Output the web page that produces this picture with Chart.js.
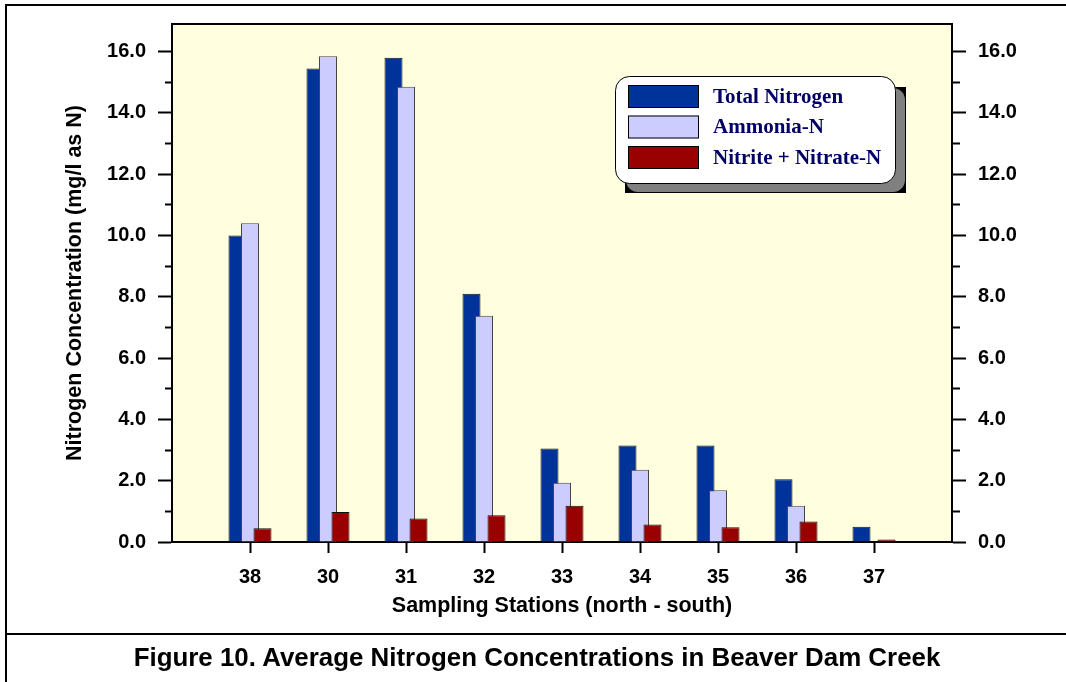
<!DOCTYPE html>
<html>
<head>
<meta charset="utf-8">
<script src="https://cdn.jsdelivr.net/npm/chart.js@4/dist/chart.umd.min.js"></script>
<style>
  body { margin: 0; background: #fff; }
  #wrap { position: relative; width: 1066px; height: 682px; overflow: hidden; }
  #mycanvas { position: absolute; left: 0; top: 0; }
  #frame { position: absolute; left: 5px; top: 4px; width: 1100px; height: 700px; border-left: 2px solid #000; border-top: 2px solid #000; }
  #sep { position: absolute; left: 5px; top: 633px; width: 1100px; border-top: 2px solid #000; }
  #caption { position: absolute; left: 4px; width: 1066px; top: 643px; text-align: center;
             font: bold 25.9px "Liberation Sans", Arial, sans-serif; color: #000; }
</style>
</head>
<body>
<div id="wrap">
  <div id="frame"></div>
  <canvas id="mycanvas" width="1066" height="682"></canvas>
  <div id="sep"></div>
  <div id="caption">Figure 10. Average Nitrogen Concentrations in Beaver Dam Creek</div>
</div>
<script>
// stations, north to south
var stations = ['38', '30', '31', '32', '33', '34', '35', '36', '37'];
var totalN   = [10.0, 15.45, 15.8, 8.1, 3.05, 3.15, 3.15, 2.05, 0.5];
var ammonia  = [10.4, 15.85, 14.85, 7.38, 1.93, 2.36, 1.69, 1.18, 0.0];
var nitrite  = [0.45, 0.98, 0.77, 0.87, 1.18, 0.57, 0.48, 0.67, 0.08];
var yTicks   = [0, 2, 4, 6, 8, 10, 12, 14, 16];

// one empty slot each side, like the original axis
var labels = [''].concat(stations, ['']);
function pad(arr) { return [null].concat(arr, [null]); }

var tickFont  = { family: 'Liberation Sans', weight: 'bold', size: 20 };
var titleFont = { family: 'Liberation Sans', weight: 'bold', size: 21.5 };

var plotFrame = {
  id: 'plotFrame',
  beforeDraw: function(chart) {
    var a = chart.chartArea, ctx = chart.ctx;
    ctx.save();
    ctx.fillStyle = '#FFFFE0';
    ctx.fillRect(a.left, a.top, a.right - a.left, a.bottom - a.top);
    ctx.restore();
  },
  // draw blue, then light, then red so the right bar sits on top
  beforeDatasetsDraw: function(chart) {
    var metas = chart.getSortedVisibleDatasetMetas().slice();
    metas.sort(function(a, b) { return a.index - b.index; });
    metas.forEach(function(m) { m.controller.draw(); });
    return false;
  },
  afterDraw: function(chart) {
    var a = chart.chartArea, ctx = chart.ctx;
    ctx.save();
    ctx.strokeStyle = '#000';
    ctx.lineWidth = 2;
    ctx.beginPath();
    ctx.moveTo(a.left - 1, a.top);
    ctx.lineTo(a.right + 1, a.top);
    ctx.stroke();

    // legend box with shadow
    var bx = 615, by = 76, bw = 280, bh = 107;
    ctx.fillStyle = '#000';
    ctx.fillRect(bx + 10, by + 11, bw + 1, bh - 1);
    ctx.fillStyle = '#808080';
    ctx.beginPath();
    ctx.roundRect(bx + 11, by + 12, bw - 1, bh - 3, 12);
    ctx.fill();
    ctx.fillStyle = '#fff';
    ctx.strokeStyle = '#000';
    ctx.lineWidth = 1;
    ctx.beginPath();
    ctx.roundRect(bx + 0.5, by + 0.5, bw, bh, 14);
    ctx.fill();
    ctx.stroke();

    ctx.font = 'bold 21px "Liberation Serif", "Times New Roman", serif';
    ctx.textBaseline = 'middle';
    ctx.textAlign = 'left';
    chart.data.datasets.forEach(function(ds, i) {
      var sy = by + 9 + i * 30.5;
      ctx.fillStyle = ds.backgroundColor;
      ctx.fillRect(bx + 13, sy, 71, 23);
      ctx.strokeStyle = '#000';
      ctx.strokeRect(bx + 13.5, sy + 0.5, 70, 22);
      ctx.fillStyle = '#000066';
      ctx.fillText(ds.label, bx + 98, sy + 12.5);
    });
    ctx.restore();
  }
};

function yAxis(pos) {
  return {
    position: pos,
    min: 0,
    max: 16.9,
    ticks: {
      stepSize: 1,
      maxTicksLimit: 30,
      includeBounds: false,
      padding: 12,
      color: '#000',
      font: tickFont,
      callback: function(v) { return yTicks.indexOf(v) >= 0 ? v.toFixed(1) : ''; }
    },
    grid: {
      drawOnChartArea: false,
      tickLength: 14,
      tickWidth: 2,
      tickColor: '#000',
      tickBorderDash: function(c) { return yTicks.indexOf(c.tick.value) >= 0 ? [] : [7, 7]; },
      tickBorderDashOffset: function(c) {
        return yTicks.indexOf(c.tick.value) >= 0 ? 0 : (pos === 'left' ? 7 : 0);
      }
    },
    border: { color: '#000', width: 2 }
  };
}

var yLeft = yAxis('left');
yLeft.title = { display: true, text: 'Nitrogen Concentration (mg/l as N)', color: '#000',
                font: titleFont, padding: { top: 0, bottom: 0 } };
yLeft.afterFit = function(s) { s.width = 110; };
var yRight = yAxis('right');
yRight.afterFit = function(s) { s.width = 114; };

var ctx = document.getElementById('mycanvas');
var chart = new Chart(ctx, {
  type: 'bar',
  data: {
    labels: labels,
    datasets: [
      { label: 'Total Nitrogen', data: pad(totalN), backgroundColor: '#003399', borderColor: '#111', borderWidth: 1 },
      { label: 'Ammonia-N', data: pad(ammonia), backgroundColor: '#CCCCFF', borderColor: '#444', borderWidth: 1 },
      { label: 'Nitrite + Nitrate-N', data: pad(nitrite), backgroundColor: '#990000', borderColor: '#111', borderWidth: 1 }
    ]
  },
  options: {
    responsive: false,
    animation: false,
    categoryPercentage: 0.481,
    barPercentage: 1.44,
    layout: { padding: { left: 62, right: 0, top: 22, bottom: 60 } },
    plugins: { legend: { display: false }, tooltip: { enabled: false } },
    scales: {
      x: {
        offset: false,
        grid: {
          offset: false,
          drawOnChartArea: false,
          tickLength: 11,
          tickWidth: 2,
          tickColor: function(c) { return labels[c.index] ? '#000' : 'rgba(0,0,0,0)'; }
        },
        border: { color: '#000', width: 2 },
        ticks: { color: '#000', font: tickFont, padding: 12, maxRotation: 0, autoSkip: false },
        title: { display: true, text: 'Sampling Stations (north - south)', color: '#000',
                 font: titleFont, padding: { top: 0, bottom: 3 } },
        afterFit: function(s) { s.height = 80; }
      },
      y: yLeft,
      y2: yRight
    }
  },
  plugins: [plotFrame]
});
</script>
</body>
</html>
